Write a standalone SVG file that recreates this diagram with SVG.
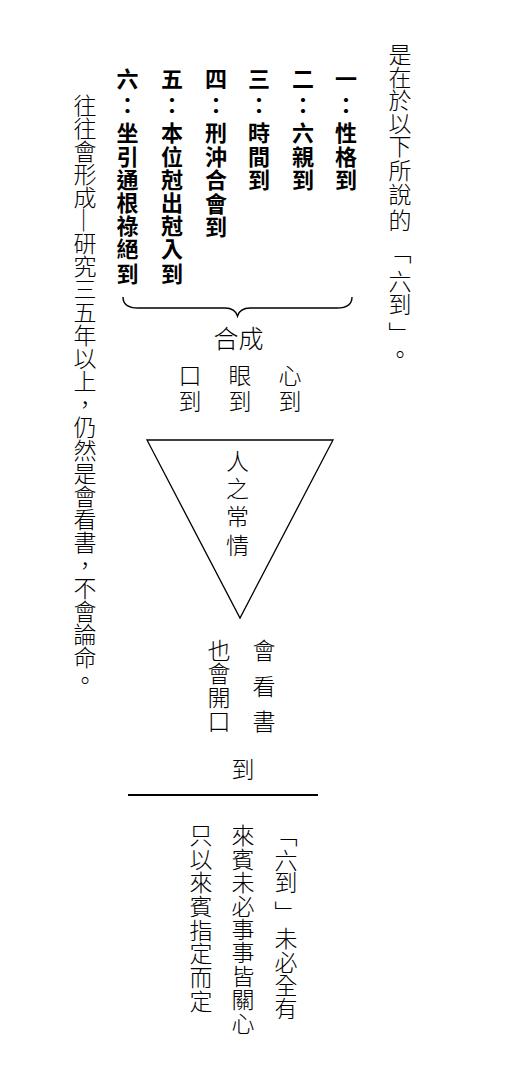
<svg xmlns="http://www.w3.org/2000/svg" width="507" height="1084" viewBox="0 0 507 1084">
<style>
.v { writing-mode: vertical-rl; font-family: "Noto Sans CJK TC", "Noto Sans CJK SC", sans-serif; font-size: 23px; font-weight: 300; text-anchor: middle; fill: #000; }
.b { font-weight: bold; font-size: 22px; }
.h { font-family: "Noto Sans CJK TC", "Noto Sans CJK SC", sans-serif; font-size: 25px; font-weight: 300; text-anchor: middle; fill: #000; }
.ln { fill: none; stroke: #000; }
</style>
<rect width="507" height="1084" fill="#fff"/>
<g id="intro">
<text class="v" x="400" y="54 77 100.5 123 146.5 170 194 220 252 281 304 333 354">是在於以下所說的「六到」。</text>
</g>
<g id="item1"><text class="v b" x="346" y="79 105 133 156.5 180">一：性格到</text></g>
<g id="item2"><text class="v b" x="303" y="79 105 133 156.5 180">二：六親到</text></g>
<g id="item3"><text class="v b" x="259" y="79 105 133 156.5 180">三：時間到</text></g>
<g id="item4"><text class="v b" x="216" y="79 105 133 156.5 180 203.5 227">四：刑沖合會到</text></g>
<g id="item5"><text class="v b" x="172" y="79 105 133 156.5 179.5 202.5 225.5 249 274">五：本位尅出尅入到</text></g>
<g id="item6"><text class="v b" x="127.5" y="79 105 133 156.5 179.5 202.5 225.5 249 274">六：坐引通根祿絕到</text></g>
<g id="side-note">
<text class="v" x="85" y="93.5" style="text-anchor:start">往往會形成─研究三五年以上，仍然是會看書，不會論命。</text>
</g>
<g id="combine"><text class="h" x="238.5" y="347.5">合成</text></g>
<g id="mouth"><text class="v" x="190" y="375.5 401">口到</text></g>
<g id="eye"><text class="v" x="240" y="375.5 401">眼到</text></g>
<g id="heart"><text class="v" x="290" y="375.5 401">心到</text></g>
<g id="human-nature">
<polygon class="ln" stroke-width="1.3" points="147,440 333,440 240,618"/>
<text class="v" x="237.5" y="461.5 488.5 516.5 545">人之常情</text>
</g>
<g id="read-books"><text class="v" x="264" y="650 686 721.5">會看書</text></g>
<g id="speak"><text class="v" x="219" y="650 673 697 721">也會開口</text></g>
<g id="arrive"><text class="v" x="243" y="769">到</text></g>
<g id="note1"><text class="v" x="286" y="835 860 882.5 912 938 962 985 1008">「六到」未必全有</text></g>
<g id="note2"><text class="v" x="243" y="835 859 882.5 906 929 952.5 976 999 1023">來賓未必事事皆關心</text></g>
<g id="note3"><text class="v" x="201" y="835 859 882 906 930 953 977 1001">只以來賓指定而定</text></g>
<g id="connectors">
<path class="ln" stroke-width="1.4" d="M123,297 C123,305 128,308 138,308 L225,308 C232,308 236,311 237.5,316 C239,311 243,308 250,308 L337,308 C347,308 352,305 352,297"/>
<line class="ln" stroke-width="2" x1="128" y1="795" x2="318" y2="795"/>
</g>
</svg>
